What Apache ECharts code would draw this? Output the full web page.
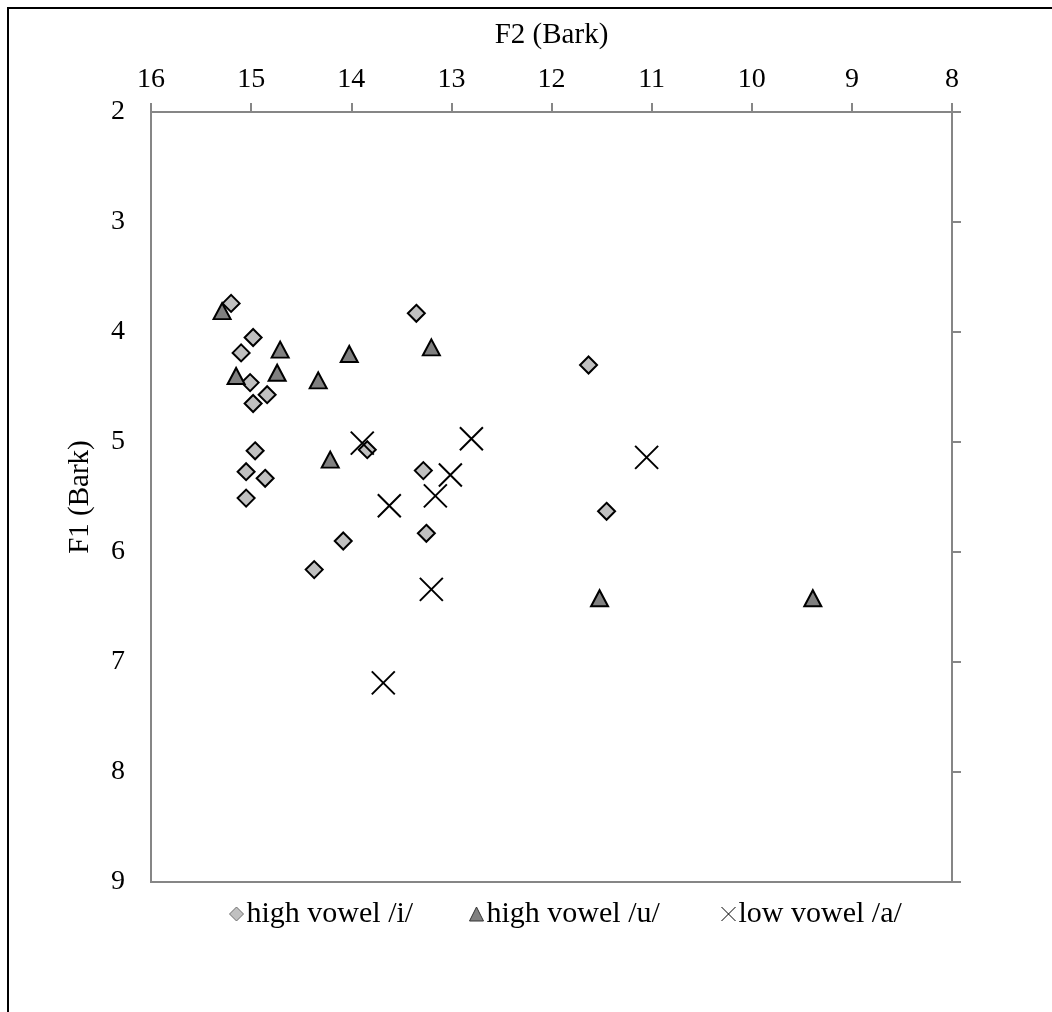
<!DOCTYPE html>
<html>
<head>
<meta charset="utf-8">
<style>
  html, body { margin: 0; padding: 0; background: #fff; }
  #chart { width: 1052px; height: 1012px; }
</style>
<script src="https://cdn.jsdelivr.net/npm/echarts@6/dist/echarts.min.js"></script>
</head>
<body>
<div id="chart"></div>
<script>
// F2 / F1 (Bark) pairs for each vowel category
const vowelI = [
  [15.20, 3.74], [13.35, 3.83], [14.98, 4.05], [15.10, 4.19], [15.01, 4.46],
  [14.84, 4.57], [14.98, 4.65], [14.96, 5.08], [13.84, 5.07], [15.05, 5.27],
  [14.86, 5.33], [13.28, 5.26], [15.05, 5.51], [14.08, 5.90], [13.25, 5.83],
  [14.37, 6.16], [11.63, 4.30], [11.45, 5.63]
];
const vowelU = [
  [15.29, 3.81], [14.71, 4.16], [14.02, 4.20], [13.20, 4.14], [15.15, 4.40],
  [14.74, 4.37], [14.33, 4.44], [14.21, 5.16], [11.52, 6.42], [9.39, 6.42]
];
const vowelA = [
  [13.89, 5.01], [12.80, 4.97], [13.01, 5.30], [13.16, 5.49], [13.62, 5.58],
  [13.20, 6.34], [11.05, 5.14], [13.68, 7.19]
];
const seriesNames = ['high vowel /i/', 'high vowel /u/', 'low vowel /a/'];
const f2Range = [8, 16];
const f1Range = [2, 9];

const serif = '"Liberation Serif", "Times New Roman", serif';
const axisGray = '#868686';
const crossPath = 'path://M0,0L10,10M10,0L0,10';
const legendLefts = [224, 464, 714];
const legendBorders = ['#6e6e6e', '#333', '#000'];

const chart = echarts.init(document.getElementById('chart'), null, { renderer: 'canvas' });

// one legend block per series so each entry sits at its own place
const legends = seriesNames.map((name, i) => ({
  left: legendLefts[i], top: 894,
  itemWidth: 14, itemHeight: 14, itemGap: 0,
  textStyle: { fontFamily: serif, fontSize: 30, color: '#000', padding: [0, 0, 0, -2] },
  data: [{ name: name, itemStyle: { borderWidth: 1, borderColor: legendBorders[i] } }]
}));

chart.setOption({
  animation: false,
  backgroundColor: '#fff',
  textStyle: { fontFamily: serif, color: '#000' },
  graphic: [{
    type: 'rect',
    shape: { x: 8, y: 8, width: 1200, height: 1200 },
    style: { fill: 'none', stroke: '#000', lineWidth: 2 },
    silent: true
  }],
  grid: {
    left: 151, top: 112, width: 801, height: 770,
    show: true, borderColor: axisGray, borderWidth: 2, backgroundColor: 'transparent'
  },
  legend: legends,
  xAxis: {
    type: 'value', position: 'top', inverse: true,
    min: f2Range[0], max: f2Range[1], interval: 1,
    name: 'F2 (Bark)', nameLocation: 'middle', nameGap: 62,
    nameTextStyle: { fontFamily: serif, fontSize: 29, color: '#000' },
    axisLine: { show: true, lineStyle: { color: axisGray, width: 2 } },
    axisTick: { show: true, inside: false, length: 9, lineStyle: { color: axisGray, width: 2 } },
    axisLabel: { fontFamily: serif, fontSize: 28, color: '#000', margin: 18 },
    splitLine: { show: false }
  },
  yAxis: [{
    type: 'value', position: 'left', inverse: true,
    min: f1Range[0], max: f1Range[1], interval: 1,
    name: 'F1 (Bark)', nameLocation: 'middle', nameGap: 56, nameRotate: 90,
    nameTextStyle: { fontFamily: serif, fontSize: 29, color: '#000' },
    axisLine: { show: true, lineStyle: { color: axisGray, width: 2 } },
    axisTick: { show: false },
    axisLabel: { fontFamily: serif, fontSize: 28, color: '#000', margin: 26 },
    splitLine: { show: false }
  }, {
    type: 'value', position: 'right', inverse: true,
    min: f1Range[0], max: f1Range[1], interval: 1,
    axisLine: { show: true, lineStyle: { color: axisGray, width: 2 } },
    axisTick: { show: true, inside: false, length: 9, lineStyle: { color: axisGray, width: 2 } },
    axisLabel: { show: false },
    splitLine: { show: false }
  }],
  series: [{
    name: seriesNames[0], type: 'scatter', data: vowelI,
    symbol: 'diamond', symbolSize: 17,
    itemStyle: { color: '#c0c0c0', borderColor: '#000', borderWidth: 2, opacity: 1 }
  }, {
    name: seriesNames[1], type: 'scatter', data: vowelU,
    symbol: 'triangle', symbolSize: [17, 16],
    itemStyle: { color: '#808080', borderColor: '#000', borderWidth: 2, opacity: 1 }
  }, {
    name: seriesNames[2], type: 'scatter', data: vowelA,
    symbol: crossPath, symbolSize: 23,
    itemStyle: { color: 'none', borderColor: '#000', borderWidth: 2, opacity: 1 }
  }]
});
</script>
</body>
</html>
